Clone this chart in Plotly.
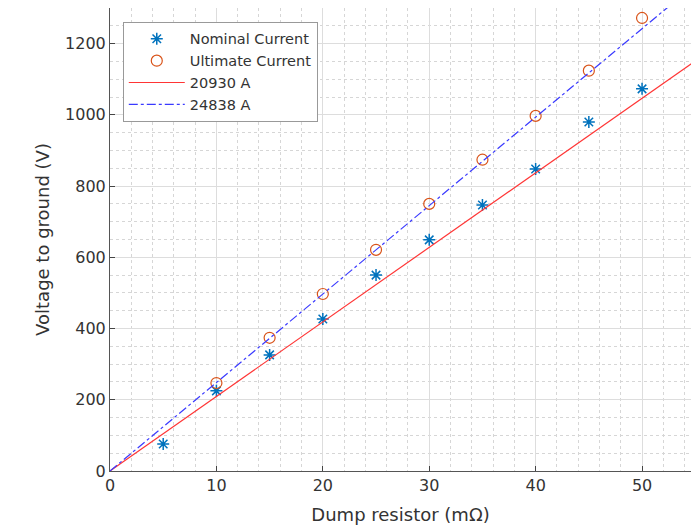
import numpy as np
import plotly.graph_objects as go

R_nom = [5, 10, 15, 20, 25, 30, 35, 40, 45, 50]
V_nom = [76, 225, 326, 427, 550, 649, 747, 848, 980, 1073]
R_ult = [10, 15, 20, 25, 30, 35, 40, 45, 50]
V_ult = [247, 374, 497, 621, 750, 874, 997, 1124, 1272]
I_nom = 20930
I_ult = 24838
R_line = [0, 55]

fig = go.Figure()
fig.add_trace(go.Scatter(x=R_nom, y=V_nom, mode="markers", name="Nominal Current",
                         marker=dict(symbol="asterisk-open", size=10, color="#0072BD",
                                     line=dict(width=1.5, color="#0072BD"))))
fig.add_trace(go.Scatter(x=R_ult, y=V_ult, mode="markers", name="Ultimate Current",
                         marker=dict(symbol="circle-open", size=11, color="#D95319",
                                     line=dict(width=1.2, color="#D95319"))))
fig.add_trace(go.Scatter(x=R_line, y=[I_nom * r / 1000 for r in R_line], mode="lines",
                         name=f"{I_nom} A", line=dict(color="#FF3535", width=1.2)))
fig.add_trace(go.Scatter(x=R_line, y=[I_ult * r / 1000 for r in R_line], mode="lines",
                         name=f"{I_ult} A", line=dict(color="#3A3AFF", width=1.2, dash="dashdot")))

axis_common = dict(showline=True, linecolor="#555555", linewidth=1, ticks="inside",
                   ticklen=5, tickcolor="#444444", showgrid=True, gridcolor="#DDDDDD",
                   gridwidth=1, zeroline=False, tickfont=dict(size=16, color="#333333"),
                   mirror=False)
fig.update_xaxes(range=[0, 54.6], dtick=10, tick0=0,
                 minor=dict(dtick=2, showgrid=True, gridcolor="#D6D6D6", griddash="dot"),
                 title=dict(text="Dump resistor (mΩ)", font=dict(size=18, color="#333333"), standoff=14),
                 **axis_common)
fig.update_yaxes(range=[0, 1300], dtick=200, tick0=0,
                 minor=dict(dtick=50, showgrid=True, gridcolor="#D6D6D6", griddash="dot"),
                 title=dict(text="Voltage to ground (V)", font=dict(size=18, color="#333333"), standoff=10),
                 **axis_common)
fig.update_layout(width=692, height=527, margin=dict(l=110, r=1, t=8, b=56),
                  paper_bgcolor="white", plot_bgcolor="white",
                  font=dict(family="DejaVu Sans", color="#333333"),
                  legend=dict(x=0.022, y=0.97, xanchor="left", yanchor="top",
                              bgcolor="white", bordercolor="#999999", borderwidth=1,
                              font=dict(size=14.5), tracegroupgap=0, itemwidth=56))
fig.write_html("out.html")
